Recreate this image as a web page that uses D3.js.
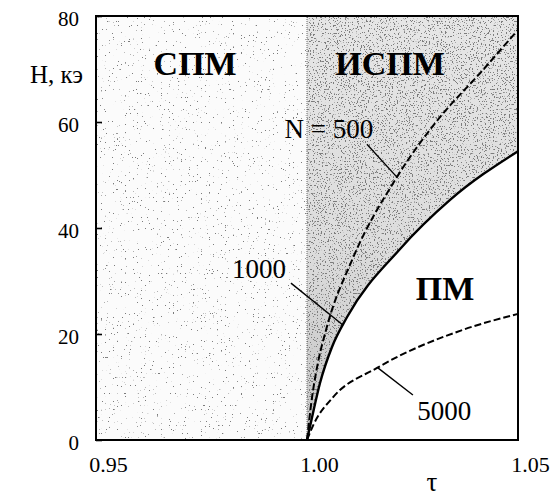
<!DOCTYPE html>
<html><head><meta charset="utf-8">
<script src="https://cdn.jsdelivr.net/npm/d3@7"></script>
<style>
html,body{margin:0;padding:0;background:#fff;}
</style></head>
<body><svg id="chart" width="551" height="499"></svg>
<script>
// ---- data ----
const xTicks = [0.95, 1.00, 1.05];
const yTicks = [0, 20, 40, 60, 80];
// N = 500 (dashed)
const tau500 = [1.0000, 1.0012, 1.0024, 1.0047, 1.0107, 1.0213, 1.0315, 1.0410, 1.0500];
const h500   = [0,      8.1,    13.8,   21.3,   34.0,   49.6,   60.9,   69.2,   77.4];
// N = 1000 (solid)
const tau1000 = [1.0000, 1.0012, 1.0031, 1.0059, 1.0095, 1.0220, 1.0339, 1.0500];
const h1000   = [0,      4.3,    10.8,   17.5,   23.2,   36.0,   45.3,   54.5];
// N = 5000 (dashed)
const tau5000 = [1.0000, 1.0016, 1.0062, 1.0166, 1.0370, 1.0500];
const h5000   = [0,      3.0,    8.1,    13.6,   20.8,   23.8];
// region labels
const regionNames = ["СПМ", "ИСПМ", "ПМ"];
const regionTau   = [0.9735, 1.0197, 1.0327];
const regionH     = [68.9, 68.9, 26.4];
// curve labels and leaders
const curveLabels   = ["N = 500", "1000", "5000"];
const curveLabelTau = [1.0052, 0.9886, 1.0325];
const curveLabelH   = [57.0, 30.6, 3.8];
const leaderFromTau = [1.0142, 0.9962, 1.0168];
const leaderFromH   = [55.8, 29.6, 13.6];
const leaderToTau   = [1.0213, 1.0085, 1.0251];
const leaderToH     = [49.6, 21.7, 8.5];

// ---- layout ----
const FONT = '"Liberation Serif"';
const svg = d3.select("#chart");
const L = 96, R = 518, T = 16, B = 440;
const x = d3.scaleLinear().domain([0.95, 1.05]).range([L, R]);
const y = d3.scaleLinear().domain([0, 80]).range([B, T]);

svg.append("rect").attr("width", 551).attr("height", 499).attr("fill", "#fff");

const defs = svg.append("defs");
const grad = defs.append("linearGradient").attr("id", "gIs").attr("x1", 0).attr("y1", 1).attr("x2", 0).attr("y2", 0);
grad.append("stop").attr("offset", "0").attr("stop-color", "#c4c4c4");
grad.append("stop").attr("offset", "0.45").attr("stop-color", "#dcdcdc");
grad.append("stop").attr("offset", "1").attr("stop-color", "#e6e6e6");

function stipple(id, cut, seed) {
  const f = defs.append("filter").attr("id", id)
    .attr("filterUnits", "userSpaceOnUse").attr("x", L).attr("y", T)
    .attr("width", R - L).attr("height", B - T);
  f.append("feTurbulence").attr("type", "fractalNoise").attr("baseFrequency", 0.75)
    .attr("numOctaves", 1).attr("seed", seed).attr("result", "n");
  f.append("feColorMatrix").attr("in", "n").attr("type", "matrix")
    .attr("values", `0 0 0 0 0.2  0 0 0 0 0.2  0 0 0 0 0.2  25 0 0 0 ${-25 * cut}`);
}
stipple("stLight", 0.70, 3);
stipple("stDark", 0.60, 7);

// left region (СПМ)
svg.append("rect")
  .attr("x", x(0.95)).attr("y", y(80))
  .attr("width", x(1.0) - x(0.95)).attr("height", y(0) - y(80))
  .attr("fill", "#fbfbfb");
defs.append("clipPath").attr("id", "cLeft").append("rect")
  .attr("x", x(0.95)).attr("y", y(80))
  .attr("width", x(1.0) - x(0.95)).attr("height", y(0) - y(80));
svg.append("g").attr("clip-path", "url(#cLeft)")
  .append("rect").attr("x", L).attr("y", T).attr("width", R - L).attr("height", B - T)
  .attr("fill", "#000").attr("filter", "url(#stLight)");

// curves
const line = d3.line().x(d => x(d[0])).y(d => y(d[1])).curve(d3.curveMonotoneX);
const pts1000 = tau1000.map((t, i) => [t, h1000[i]]);

// ИСПМ region: between tau=1 and N=1000 curve (edge sampled from the drawn curve)
const tmp = svg.append("path").attr("d", line(pts1000)).attr("fill", "none");
const node = tmp.node(), len = node.getTotalLength(), edge = [];
for (let i = 0; i <= 120; i++) { const p = node.getPointAtLength(len * i / 120); edge.push([x.invert(p.x), y.invert(p.y)]); }
tmp.remove();
const isD = d3.line().x(d => x(d[0])).y(d => y(d[1]))(edge.concat([[1.05, 80], [1.0, 80]])) + "Z";
svg.append("path").attr("d", isD).attr("fill", "url(#gIs)");
defs.append("clipPath").attr("id", "cIs").append("path").attr("d", isD);
svg.append("g").attr("clip-path", "url(#cIs)")
  .append("rect").attr("x", L).attr("y", T).attr("width", R - L).attr("height", B - T)
  .attr("fill", "#000").attr("filter", "url(#stDark)");

// divider
svg.append("line")
  .attr("x1", x(1.0)).attr("x2", x(1.0)).attr("y1", y(0)).attr("y2", y(80))
  .attr("stroke", "#666").attr("stroke-width", 1).attr("stroke-dasharray", "1,1");

svg.append("path").datum(tau500.map((t, i) => [t, h500[i]]))
  .attr("d", line).attr("fill", "none").attr("stroke", "#000")
  .attr("stroke-width", 2).attr("stroke-dasharray", "7,3");
svg.append("path").datum(pts1000)
  .attr("d", line).attr("fill", "none").attr("stroke", "#000")
  .attr("stroke-width", 2.4);
svg.append("path").datum(tau5000.map((t, i) => [t, h5000[i]]))
  .attr("d", line).attr("fill", "none").attr("stroke", "#000")
  .attr("stroke-width", 2).attr("stroke-dasharray", "7,3");

// leaders
curveLabels.forEach((c, i) => {
  svg.append("line")
    .attr("x1", x(leaderFromTau[i])).attr("y1", y(leaderFromH[i]))
    .attr("x2", x(leaderToTau[i])).attr("y2", y(leaderToH[i]))
    .attr("stroke", "#000").attr("stroke-width", 1.4);
});

// frame
svg.append("rect")
  .attr("x", L).attr("y", T).attr("width", R - L).attr("height", B - T)
  .attr("fill", "none").attr("stroke", "#000").attr("stroke-width", 2);

// axes
const yAxis = svg.append("g").attr("transform", `translate(${L},0)`)
  .call(d3.axisLeft(y).tickValues(yTicks).tickSize(-6).tickSizeOuter(0).tickPadding(17).tickFormat(d3.format("d")));
yAxis.select(".domain").remove();
yAxis.selectAll("line").attr("stroke", "#000").attr("stroke-width", 1.6);
yAxis.selectAll("text").attr("font-size", 21).attr("dy", "0.45em")
  .style("font-family", FONT).attr("fill", "#000");

const xAxis = svg.append("g").attr("transform", `translate(0,${B})`)
  .call(d3.axisBottom(x).tickValues(xTicks).tickSize(0).tickPadding(16).tickFormat(d3.format(".2f")));
xAxis.select(".domain").remove();
xAxis.selectAll("text").attr("font-size", 22).attr("dx", 12)
  .style("font-family", FONT).attr("fill", "#000");
yAxis.attr("font-family", null); xAxis.attr("font-family", null);

// axis titles
svg.append("text").attr("x", 83).attr("y", 83).attr("text-anchor", "end")
  .attr("font-size", 25).style("font-family", FONT).text("H, кэ");
svg.append("text").attr("x", 432).attr("y", 491).attr("text-anchor", "middle")
  .attr("font-size", 27).style("font-family", FONT).text("τ");

// region labels
regionNames.forEach((n, i) => {
  svg.append("text").attr("x", x(regionTau[i])).attr("y", y(regionH[i]))
    .attr("text-anchor", "middle").attr("font-size", 34).attr("font-weight", "bold")
    .style("font-family", FONT).text(n);
});
// curve labels
curveLabels.forEach((c, i) => {
  svg.append("text").attr("x", x(curveLabelTau[i])).attr("y", y(curveLabelH[i]))
    .attr("text-anchor", "middle").attr("font-size", 27).style("font-family", FONT).text(c);
});
</script></body></html>
